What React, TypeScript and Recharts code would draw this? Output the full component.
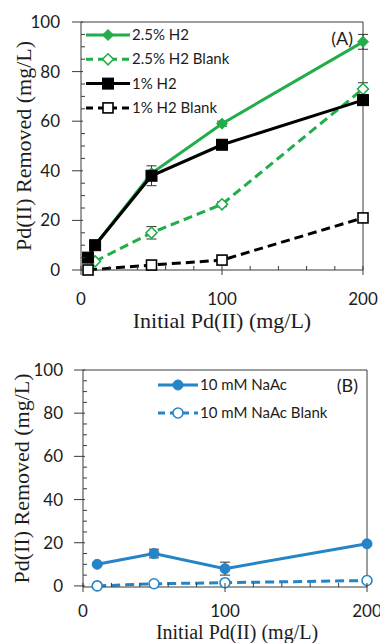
import React from "react";
import { LineChart, Line, XAxis, YAxis, ErrorBar, ReferenceLine, Legend, Label } from "recharts";

// panel A: initial Pd(II) vs removed, H2 runs
const xA = [5, 10, 50, 100, 200];
const h25 = [5, 10, 39, 59, 92];
const h25Err = [null, null, null, 1, 3];
const h25Blank = [null, 3.5, 15, 26.5, 73];
const h25BlankErr = [null, null, 2.5, 1, 2.5];
const h1 = [5, 10, 38, 50.5, 68.5];
const h1Err = [null, null, 4, 1, 2];
const h1Blank = [0, null, 2, 4, 21];
const h1BlankErr = [null, null, 1, 0.5, 1];

// panel B: acetate runs
const xB = [10, 50, 100, 200];
const naac = [10, 15, 8, 19.5];
const naacErr = [0.5, 2, 3, 0.5];
const naacBlank = [0, 1, 1.5, 2.5];
const naacBlankErr = [0.5, 1, 1, 0.5];

const xTicks = [0, 20, 40, 60, 80, 100, 120, 140, 160, 180, 200];
const xLabels = [0, 100, 200];
const yTicks = [0, 5, 10, 15, 20, 25, 30, 35, 40, 45, 50, 55, 60, 65, 70, 75, 80, 85, 90, 95, 100];

const GREEN = "#22ad4a";
const BLUE = "#2584c6";
const AXIS = "#3a3a3a";
const TXT = "#1c1c1c";
const TICK_FONT = "Lato, 'Open Sans', sans-serif";
const TITLE_FONT = "'Liberation Serif', 'DejaVu Serif', serif";

const dataA = xA.map((x, i) => ({
  x,
  h25: h25[i],
  h25Err: h25Err[i],
  h25Blank: h25Blank[i],
  h25BlankErr: h25BlankErr[i],
  h1: h1[i],
  h1Err: h1Err[i],
  h1Blank: h1Blank[i],
  h1BlankErr: h1BlankErr[i],
}));

const dataB = xB.map((x, i) => ({
  x,
  naac: naac[i],
  naacErr: naacErr[i],
  naacBlank: naacBlank[i],
  naacBlankErr: naacBlankErr[i],
}));

type Marker = "diamond" | "square" | "circle";

function drawMarker(shape: Marker, cx: number, cy: number, color: string, filled: boolean, key?: string) {
  const fill = filled ? color : "#fff";
  const sw = filled ? 1 : 1.6;
  if (shape === "diamond") {
    const r = 5.5;
    return <path key={key} d={`M${cx},${cy - r}L${cx + r},${cy}L${cx},${cy + r}L${cx - r},${cy}Z`} fill={fill} stroke={color} strokeWidth={sw} />;
  }
  if (shape === "square") {
    const r = filled ? 5.5 : 5;
    return <rect key={key} x={cx - r} y={cy - r} width={r * 2} height={r * 2} fill={fill} stroke={color} strokeWidth={sw} />;
  }
  return <circle key={key} cx={cx} cy={cy} r={5} fill={fill} stroke={color} strokeWidth={sw} />;
}

const dotFn = (shape: Marker, color: string, filled: boolean) => (p: any) => {
  if (p.cx == null || p.cy == null || p.value == null) return <g key={`e${p.index}`} />;
  return drawMarker(shape, p.cx, p.cy, color, filled, `d${p.index}`);
};

// x ticks: majors cross the axis, minors point inward
const XTick = (below: number) => (p: any) => {
  const v = p.payload.value;
  const major = xLabels.includes(v);
  return (
    <g>
      <line x1={p.x} x2={p.x} y1={p.y - 4} y2={major ? p.y + 5 : p.y} stroke={AXIS} strokeWidth={1} />
      {major && (
        <text x={p.x} y={p.y + below} textAnchor="middle" fontFamily={TICK_FONT} fontSize={17} fill={TXT}>
          {v}
        </text>
      )}
    </g>
  );
};

const YTick = (gap: number) => (p: any) => {
  const v = p.payload.value;
  const major = v % 20 === 0;
  return (
    <g>
      {major ? (
        <line x1={p.x - 9} x2={p.x + 2} y1={p.y} y2={p.y} stroke={AXIS} strokeWidth={1} />
      ) : (
        <line x1={p.x} x2={p.x + 4} y1={p.y} y2={p.y} stroke={AXIS} strokeWidth={1} />
      )}
      {major && (
        <text x={p.x - gap} y={p.y + 6} textAnchor="end" fontFamily={TICK_FONT} fontSize={17} fill={TXT}>
          {v}
        </text>
      )}
    </g>
  );
};

type Key = { name: string; color: string; dash?: string; marker: Marker; filled: boolean };

const keysA: Key[] = [
  { name: "2.5% H2", color: GREEN, marker: "diamond", filled: true },
  { name: "2.5% H2 Blank", color: GREEN, dash: "7 5", marker: "diamond", filled: false },
  { name: "1% H2", color: "#000", marker: "square", filled: true },
  { name: "1% H2 Blank", color: "#000", dash: "7 5", marker: "square", filled: false },
];

const keysB: Key[] = [
  { name: "10 mM NaAc", color: BLUE, marker: "circle", filled: true },
  { name: "10 mM NaAc Blank", color: BLUE, dash: "7 5", marker: "circle", filled: false },
];

function KeyBox({ keys, rowH, lineLen }: { keys: Key[]; rowH: number; lineLen: number }) {
  return (
    <svg width={260} height={keys.length * rowH + 4} style={{ display: "block" }}>
      {keys.map((k, i) => {
        const y = 12 + i * rowH;
        return (
          <g key={k.name}>
            <line x1={0} x2={lineLen} y1={y} y2={y} stroke={k.color} strokeWidth={3} strokeDasharray={k.dash} />
            {drawMarker(k.marker, lineLen / 2, y, k.color, k.filled)}
            <text x={lineLen + 2} y={y + 5} fontFamily={TICK_FONT} fontSize={15} fill={TXT}>
              {k.name}
            </text>
          </g>
        );
      })}
    </svg>
  );
}

const titleStyle = { fontFamily: TITLE_FONT, fontSize: 22, fill: TXT };
const panelTag = { fontFamily: TICK_FONT, fontSize: 18, fill: TXT };

export default function App() {
  return (
    <div style={{ position: "absolute", left: 0, top: 0, width: 380, height: 643, background: "#fff" }}>
      <div style={{ position: "absolute", left: 0, top: 0 }}>
        <LineChart width={380} height={340} data={dataA} margin={{ top: 22, right: 17, bottom: 0, left: 0 }}>
          <XAxis
            dataKey="x"
            type="number"
            domain={[0, 200]}
            ticks={xTicks}
            interval={0}
            height={70}
            tickSize={0}
            tickMargin={0}
            tick={XTick(35)}
            stroke={AXIS}
          >
            <Label value="Initial Pd(II) (mg/L)" position="insideBottom" offset={12} style={titleStyle} />
          </XAxis>
          <YAxis
            type="number"
            domain={[0, 100]}
            ticks={yTicks}
            interval={0}
            width={81}
            tickSize={0}
            tickMargin={0}
            tick={YTick(21)}
            stroke={AXIS}
          >
            <Label value="Pd(II) Removed (mg/L)" angle={-90} position="insideLeft" offset={23} style={{ ...titleStyle, textAnchor: "middle" }} />
          </YAxis>
          <ReferenceLine y={100} stroke={AXIS} strokeWidth={1}>
            <Label value="(A)" position="insideTopRight" offset={10} style={panelTag} />
          </ReferenceLine>
          <ReferenceLine x={200} stroke={AXIS} strokeWidth={1} />
          <Legend
            layout="horizontal"
            verticalAlign="middle"
            align="center"
            wrapperStyle={{ position: "absolute", left: 86, top: 23, width: 260 }}
            content={() => <KeyBox keys={keysA} rowH={24.3} lineLen={44} />}
          />
          <Line name="2.5% H2" dataKey="h25" stroke={GREEN} strokeWidth={3} connectNulls isAnimationActive={false} dot={dotFn("diamond", GREEN, true)} activeDot={false}>
            <ErrorBar dataKey="h25Err" width={5} stroke="#333" strokeWidth={1} />
          </Line>
          <Line name="2.5% H2 Blank" dataKey="h25Blank" stroke={GREEN} strokeWidth={3} strokeDasharray="9 5" connectNulls isAnimationActive={false} dot={dotFn("diamond", GREEN, false)} activeDot={false}>
            <ErrorBar dataKey="h25BlankErr" width={5} stroke="#333" strokeWidth={1} />
          </Line>
          <Line name="1% H2" dataKey="h1" stroke="#000" strokeWidth={3} connectNulls isAnimationActive={false} dot={dotFn("square", "#000", true)} activeDot={false}>
            <ErrorBar dataKey="h1Err" width={5} stroke="#333" strokeWidth={1} />
          </Line>
          <Line name="1% H2 Blank" dataKey="h1Blank" stroke="#000" strokeWidth={3} strokeDasharray="9 5" connectNulls isAnimationActive={false} dot={dotFn("square", "#000", false)} activeDot={false}>
            <ErrorBar dataKey="h1BlankErr" width={5} stroke="#333" strokeWidth={1} />
          </Line>
        </LineChart>
      </div>
      <div style={{ position: "absolute", left: 0, top: 340 }}>
        <LineChart width={380} height={303} data={dataB} margin={{ top: 30, right: 13, bottom: 0, left: 0 }}>
          <XAxis
            dataKey="x"
            type="number"
            domain={[0, 200]}
            ticks={xTicks}
            interval={0}
            height={56}
            tickSize={0}
            tickMargin={0}
            tick={XTick(30)}
            stroke={AXIS}
          >
            <Label value="Initial Pd(II) (mg/L)" position="insideBottom" offset={4.5} dx={12} style={{ ...titleStyle, fontSize: 20 }} />
          </XAxis>
          <YAxis
            type="number"
            domain={[0, 100]}
            ticks={yTicks}
            interval={0}
            width={83}
            tickSize={0}
            tickMargin={0}
            tick={YTick(20)}
            stroke={AXIS}
          >
            <Label value="Pd(II) Removed (mg/L)" angle={-90} position="insideLeft" offset={21} style={{ ...titleStyle, textAnchor: "middle" }} />
          </YAxis>
          <ReferenceLine y={100} stroke={AXIS} strokeWidth={1}>
            <Label value="(B)" position="insideTopRight" offset={9} style={panelTag} />
          </ReferenceLine>
          <ReferenceLine x={200} stroke={AXIS} strokeWidth={1} />
          <Legend
            layout="horizontal"
            verticalAlign="middle"
            align="center"
            wrapperStyle={{ position: "absolute", left: 158, top: 33, width: 260 }}
            content={() => <KeyBox keys={keysB} rowH={28} lineLen={40} />}
          />
          <Line name="10 mM NaAc" dataKey="naac" stroke={BLUE} strokeWidth={3} isAnimationActive={false} dot={dotFn("circle", BLUE, true)} activeDot={false}>
            <ErrorBar dataKey="naacErr" width={5} stroke="#333" strokeWidth={1} />
          </Line>
          <Line name="10 mM NaAc Blank" dataKey="naacBlank" stroke={BLUE} strokeWidth={3} strokeDasharray="9 5" isAnimationActive={false} dot={dotFn("circle", BLUE, false)} activeDot={false}>
            <ErrorBar dataKey="naacBlankErr" width={5} stroke="#333" strokeWidth={1} />
          </Line>
        </LineChart>
      </div>
    </div>
  );
}
